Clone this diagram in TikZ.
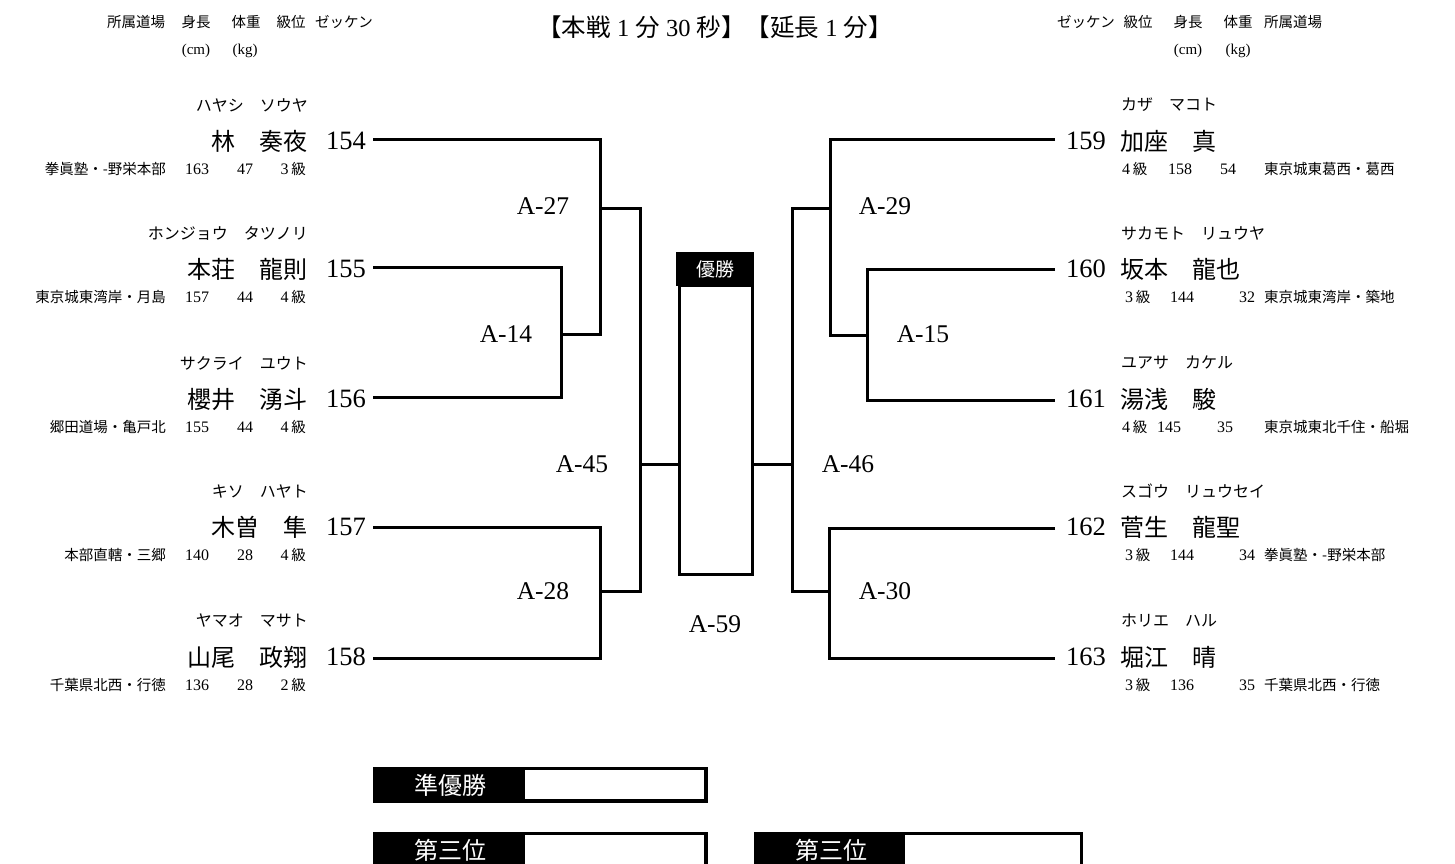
\documentclass[tikz,border=0pt]{standalone}
\usepackage{fontspec}
\setmainfont{Liberation Serif}
\newfontfamily\jp{Noto Sans CJK JP}
\newcommand\jps{\jp\fontsize{14.5}{17}\selectfont}
\begin{document}
\begin{tikzpicture}[x=1pt,y=-1pt,
  pname/.style={inner sep=0pt, font=\jp\fontsize{24}{28}\selectfont},
  pnum/.style={inner sep=0pt, font=\fontsize{26.5}{28}\selectfont},
  pkana/.style={inner sep=0pt, font=\jp\fontsize{16}{18}\selectfont},
  pinfo/.style={inner sep=0pt, font=\fontsize{16}{18}\selectfont},
  pinfoj/.style={inner sep=0pt, font=\jps},
  phead/.style={inner sep=0pt, font=\jps},
  pheadl/.style={inner sep=0pt, font=\fontsize{15}{17}\selectfont},
  mlab/.style={inner sep=0pt, font=\fontsize{25.5}{28}\selectfont},
  br/.style={line width=3pt, line join=miter},
  blk/.style={fill=black, draw=none, inner sep=0pt},
  wbox/.style={fill=white, draw=none, inner sep=0pt},
  wtext/.style={inner sep=0pt, text=white, font=\jp\fontsize{24}{28}\selectfont}]
\useasboundingbox (0,0) rectangle (1455,863);
\clip (0,0) rectangle (1455,863);
\fill[white] (0,0) rectangle (1455,863);

% title
\node[inner sep=0pt, font=\fontsize{24.5}{28}\selectfont] (title) at (715,27)
  {{\jp 【本戦}\ 1\ {\jp 分}\ 30\ {\jp 秒】【延長}\ 1\ {\jp 分】}};

% headers left
\node[phead] (hL1) at (136,22) {所属道場};
\node[phead] (hL2) at (196,22) {身長};
\node[phead] (hL3) at (246,22) {体重};
\node[phead] (hL4) at (291,22) {級位};
\node[phead] (hL5) at (344,22) {ゼッケン};
\node[pheadl] (hL6) at (196,51) {(cm)};
\node[pheadl] (hL7) at (245,51) {(kg)};
% headers right
\node[phead] (hR1) at (1086,22) {ゼッケン};
\node[phead] (hR2) at (1138,22) {級位};
\node[phead] (hR3) at (1188,22) {身長};
\node[phead] (hR4) at (1238,22) {体重};
\node[phead] (hR5) at (1293,22) {所属道場};
\node[pheadl] (hR6) at (1188,51) {(cm)};
\node[pheadl] (hR7) at (1238,51) {(kg)};

% left players
\foreach \n/\nm/\kn/\dj/\h/\w/\g/\y/\ly in {
 154/林　奏夜/ハヤシ　ソウヤ/拳眞塾・-野栄本部/163/47/3/141/139,
 155/本荘　龍則/ホンジョウ　タツノリ/東京城東湾岸・月島/157/44/4/269/267,
 156/櫻井　湧斗/サクライ　ユウト/郷田道場・亀戸北/155/44/4/399/397,
 157/木曽　隼/キソ　ハヤト/本部直轄・三郷/140/28/4/527/527,
 158/山尾　政翔/ヤマオ　マサト/千葉県北西・行徳/136/28/2/657/658}{
  \node[pnum, anchor=east] (num\n) at (366,\y) {\n};
  \node[pname, anchor=east] (name\n) at (308,\y) {\nm};
  \node[pkana, anchor=east] (kana\n) at (308,\y-36) {\kn};
  \node[pinfoj, anchor=east] (dojo\n) at (166,\y+28) {\dj};
  \node[pinfo] (ht\n) at (197,\y+28) {\h};
  \node[pinfo] (wt\n) at (245,\y+28) {\w};
  \node[pinfo, anchor=east] (gr\n) at (306,\y+28) {\g\,{\jps 級}};
  \coordinate (p\n) at (373,\ly);
}

% right players
\foreach \n/\nm/\kn/\dj/\h/\w/\g/\y/\ly/\gx/\hx/\wx in {
 159/加座　真/カザ　マコト/東京城東葛西・葛西/158/54/4/141/139/1122/1180/1228,
 160/坂本　龍也/サカモト　リュウヤ/東京城東湾岸・築地/144/32/3/269/269/1125/1182/1247,
 161/湯浅　駿/ユアサ　カケル/東京城東北千住・船堀/145/35/4/399/400/1122/1169/1225,
 162/菅生　龍聖/スゴウ　リュウセイ/拳眞塾・-野栄本部/144/34/3/527/528/1125/1182/1247,
 163/堀江　晴/ホリエ　ハル/千葉県北西・行徳/136/35/3/657/658/1125/1182/1247}{
  \node[pnum, anchor=west] (num\n) at (1066,\y) {\n};
  \node[pname, anchor=west] (name\n) at (1120,\y) {\nm};
  \node[pkana, anchor=west] (kana\n) at (1121,\y-36) {\kn};
  \node[pinfo, anchor=west] (gr\n) at (\gx,\y+28) {\g\,{\jps 級}};
  \node[pinfo] (ht\n) at (\hx,\y+28) {\h};
  \node[pinfo] (wt\n) at (\wx,\y+28) {\w};
  \node[pinfoj, anchor=west] (dojo\n) at (1264,\y+28) {\dj};
  \coordinate (p\n) at (1055,\ly);
}

% champion box
\node[draw, line width=3pt, minimum width=73pt, minimum height=289.5pt, inner sep=0pt] (champ) at (715.5,430) {};
\node[blk, minimum width=78pt, minimum height=34pt, text=white, font=\jp\fontsize{19}{22}\selectfont] (champhd) at (715,269) {優勝};

% junctions
\coordinate (a14) at (561,334);
\coordinate (a27) at (600,208);
\coordinate (a28) at (600,591);
\coordinate (a45) at (640,464);
\coordinate (a15) at (867,335);
\coordinate (a29) at (830,208);
\coordinate (a30) at (829,591);
\coordinate (a46) at (792,464);

% brackets left
\draw[br] (p155) -| (a14) |- (p156);
\draw[br] (p154) -| (a27) |- (a14);
\draw[br] (p157) -| (a28) |- (p158);
\draw[br] (a27) -| (a45) |- (a28);
\draw[br] (a45) -- (a45 -| champ.west);
% brackets right
\draw[br] (p160) -| (a15) |- (p161);
\draw[br] (p159) -| (a29) |- (a15);
\draw[br] (p162) -| (a30) |- (p163);
\draw[br] (a29) -| (a46) |- (a30);
\draw[br] (a46) -- (a46 -| champ.east);

% match labels
\node[mlab] (m27) at (543,206) {A-27};
\node[mlab] (m14) at (506,334) {A-14};
\node[mlab] (m45) at (582,464) {A-45};
\node[mlab] (m28) at (543,591) {A-28};
\node[mlab] (m29) at (885,206) {A-29};
\node[mlab] (m15) at (923,334) {A-15};
\node[mlab] (m46) at (848,464) {A-46};
\node[mlab] (m30) at (885,591) {A-30};
\node[mlab] (m59) at (715,624) {A-59};

% bottom result boxes
\node[blk, anchor=north west, minimum width=335pt, minimum height=36pt] (ru) at (373,767) {};
\node[wbox, anchor=north west, minimum width=179pt, minimum height=29pt] (ruw) at (525,770) {};
\node[wtext] (rut) at (450,785) {準優勝};

\node[blk, anchor=north west, minimum width=335pt, minimum height=36pt] (th1) at (373,832) {};
\node[wbox, anchor=north west, minimum width=179pt, minimum height=29pt] (th1w) at (525,835) {};
\node[wtext] (th1t) at (450,850) {第三位};

\node[blk, anchor=north west, minimum width=329pt, minimum height=36pt] (th2) at (754,832) {};
\node[wbox, anchor=north west, minimum width=175pt, minimum height=29pt] (th2w) at (905,835) {};
\node[wtext] (th2t) at (831,850) {第三位};
\end{tikzpicture}
\end{document}
